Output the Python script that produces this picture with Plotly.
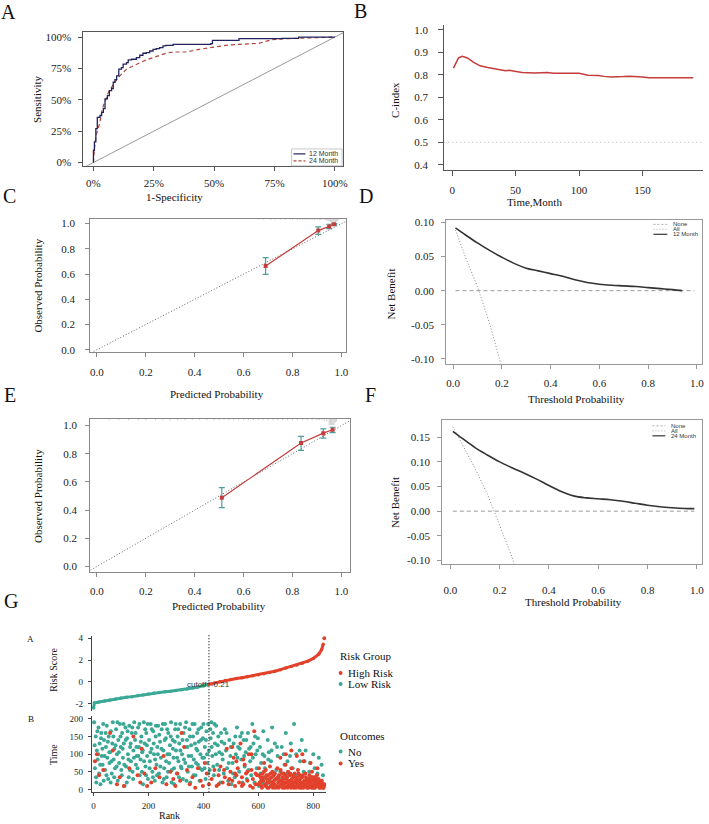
import plotly.graph_objects as go

W, H = 709, 824

# ---------------- DATA ----------------
# A: ROC curves (FPR, TPR)
roc_12m = [(0, 0), (0, 0.098), (0.004, 0.164), (0.01, 0.27), (0.016, 0.36), (0.027, 0.375), (0.034, 0.40),
           (0.041, 0.43), (0.048, 0.507), (0.058, 0.533), (0.066, 0.573), (0.075, 0.59), (0.082, 0.64),
           (0.089, 0.66), (0.096, 0.69), (0.105, 0.744), (0.116, 0.757), (0.123, 0.784), (0.137, 0.797),
           (0.144, 0.818), (0.158, 0.823), (0.178, 0.836), (0.192, 0.855), (0.205, 0.871), (0.219, 0.876),
           (0.233, 0.889), (0.247, 0.902), (0.26, 0.908), (0.274, 0.916), (0.288, 0.929), (0.30, 0.934),
           (0.33, 0.942), (0.486, 0.947), (0.493, 0.974), (0.603, 0.987), (0.78, 0.989), (0.85, 1.0), (1.0, 1.0)]
roc_24m = [(0, 0), (0.004, 0.11), (0.011, 0.216), (0.021, 0.27), (0.027, 0.32), (0.034, 0.40), (0.041, 0.454),
           (0.052, 0.507), (0.062, 0.56), (0.075, 0.60), (0.089, 0.64), (0.103, 0.678), (0.123, 0.718),
           (0.137, 0.744), (0.164, 0.77), (0.192, 0.797), (0.219, 0.818), (0.247, 0.836), (0.274, 0.855),
           (0.30, 0.871), (0.33, 0.881), (0.384, 0.881), (0.438, 0.902), (0.493, 0.916), (0.548, 0.934),
           (0.603, 0.942), (0.685, 0.95), (0.74, 0.98), (0.795, 0.987), (1.0, 1.0)]
roc_labels = ["0%", "25%", "50%", "75%", "100%"]

# B: time-dependent C-index
cidx_time = [1, 5, 8, 12, 17, 22, 28, 35, 42, 45, 50, 55, 65, 75, 80, 90, 100, 107, 115, 120, 125, 135, 140, 150, 155, 170, 190]
cidx_val = [0.83, 0.875, 0.882, 0.875, 0.855, 0.84, 0.832, 0.825, 0.818, 0.82, 0.815, 0.81, 0.808, 0.81, 0.807,
            0.807, 0.807, 0.798, 0.797, 0.793, 0.79, 0.792, 0.794, 0.79, 0.787, 0.787, 0.787]
cidx_ref = 0.5

# C: calibration 12 month
cal12_pred = [0.69, 0.905, 0.95, 0.97]
cal12_obs = [0.664, 0.945, 0.978, 0.995]
cal12_lo = [0.598, 0.915, 0.96, 0.99]
cal12_hi = [0.73, 0.974, 0.995, 1.0]
cal12_rug = [0.66, 0.68, 0.71, 0.73, 0.75, 0.77, 0.79, 0.80, 0.82, 0.83, 0.84, 0.85, 0.86, 0.87, 0.88, 0.89, 0.90,
             0.91, 0.915, 0.92, 0.93, 0.935, 0.94, 0.945, 0.95, 0.955, 0.96, 0.965, 0.97, 0.975, 0.98, 0.985, 0.99]
cal12_rug_h = [1, 1, 1, 1, 1, 1, 1, 1, 1, 1, 1, 1, 1, 1, 1, 1, 1, 1, 1, 1, 1, 1, 2, 2, 2, 3, 4, 4, 4, 4, 3, 2, 1]

# D: decision curve 12 month
dca12_t = [0.01, 0.05, 0.1, 0.15, 0.2, 0.25, 0.3, 0.35, 0.4, 0.45, 0.5, 0.55, 0.6, 0.65, 0.7, 0.75, 0.8, 0.85, 0.9, 0.94]
dca12_nb = [0.092, 0.082, 0.070, 0.059, 0.049, 0.040, 0.033, 0.029, 0.025, 0.021, 0.016, 0.012, 0.0095, 0.008,
            0.007, 0.006, 0.0045, 0.003, 0.0015, 0.0]
dca12_all_t = [0.01, 0.05, 0.1, 0.15, 0.2]
dca12_all_nb = [0.089, 0.050, 0.006, -0.048, -0.112]
none_t = [0.01, 0.99]
none_nb = [0, 0]

# E: calibration 24 month
cal24_pred = [0.511, 0.835, 0.926, 0.964]
cal24_obs = [0.488, 0.876, 0.946, 0.97]
cal24_lo = [0.418, 0.824, 0.911, 0.95]
cal24_hi = [0.559, 0.923, 0.977, 0.988]
cal24_rug = [0.05, 0.09, 0.13, 0.17, 0.2, 0.24, 0.27, 0.3, 0.33, 0.36, 0.39, 0.42, 0.45, 0.48, 0.5, 0.52, 0.54,
             0.56, 0.58, 0.6, 0.62, 0.64, 0.66, 0.68, 0.7, 0.72, 0.74, 0.76, 0.78, 0.8, 0.82, 0.84, 0.86, 0.88,
             0.9, 0.91, 0.92, 0.93, 0.94, 0.95, 0.955, 0.96, 0.965, 0.97, 0.975, 0.98]
cal24_rug_h = [1, 1, 1, 1, 1, 1, 1, 1, 1, 1, 1, 1, 1, 1, 1, 1, 1, 1, 1, 1, 1, 1, 1, 1, 1, 1, 1, 1, 1, 1, 1, 1,
               1, 1, 1, 1, 1, 2, 2, 5, 5, 5, 5, 5, 3, 2]

# F: decision curve 24 month
dca24_t = [0.01, 0.05, 0.1, 0.15, 0.2, 0.25, 0.3, 0.35, 0.4, 0.45, 0.5, 0.55, 0.6, 0.65, 0.7, 0.75, 0.8, 0.85, 0.9, 0.95, 0.99]
dca24_nb = [0.162, 0.147, 0.129, 0.114, 0.100, 0.088, 0.077, 0.065, 0.052, 0.040, 0.031, 0.027, 0.025, 0.023,
            0.020, 0.016, 0.012, 0.009, 0.007, 0.0055, 0.005]
dca24_all_t = [0.01, 0.05, 0.1, 0.15, 0.2, 0.25, 0.28]
dca24_all_nb = [0.171, 0.135, 0.087, 0.035, -0.028, -0.093, -0.14]

# G: risk score by rank
risk_rank = [0, 3, 20, 40, 60, 80, 100, 120, 140, 160, 180, 200, 220, 240, 260, 280, 300, 320, 340, 360, 380, 400,
             420, 440, 460, 480, 500, 520, 540, 560, 580, 600, 620, 640, 660, 680, 700, 720, 740, 760, 780, 800,
             820, 830, 836, 840]
risk_score = [-2.40, -1.95, -1.85, -1.75, -1.67, -1.58, -1.48, -1.42, -1.36, -1.28, -1.20, -1.12, -1.03, -0.97,
              -0.92, -0.86, -0.80, -0.73, -0.65, -0.57, -0.48, -0.38, -0.21, -0.10, 0.02, 0.12, 0.22, 0.30, 0.38,
              0.47, 0.56, 0.65, 0.75, 0.86, 0.98, 1.12, 1.28, 1.42, 1.56, 1.72, 1.90, 2.15, 2.55, 2.95, 3.45, 4.0]
cutoff_rank = 420
cutoff_value = -0.21

# G: survival time by rank, outcome No / Yes
time_no = [(2, 190), (5, 60), (8, 150), (10, 20), (12, 110), (15, 85), (18, 175), (20, 45), (22, 130), (25, 15), (28, 160),
           (30, 95), (33, 70), (35, 185), (38, 140), (42, 55), (45, 120), (48, 180), (50, 90), (53, 30), (55, 150),
           (58, 75), (60, 105), (63, 165), (66, 45), (68, 130), (70, 190), (73, 85), (76, 115), (78, 60), (82, 170),
           (85, 100), (88, 25), (90, 140), (93, 75), (96, 185), (99, 120), (101, 55), (104, 160), (107, 90), (110, 130),
           (113, 10), (116, 175), (118, 65), (122, 145), (125, 100), (128, 35), (130, 180), (133, 120), (136, 80),
           (139, 160), (142, 50), (145, 110), (148, 190), (151, 140), (154, 70), (157, 95), (162, 175), (165, 120),
           (168, 40), (171, 85), (174, 150), (177, 105), (180, 15), (183, 190), (186, 130), (189, 65), (192, 160),
           (195, 95), (198, 30), (202, 140), (205, 80), (208, 185), (211, 115), (214, 50), (217, 165), (220, 100),
           (223, 25), (226, 150), (229, 70), (232, 120), (235, 180), (238, 45), (242, 135), (245, 90), (248, 170),
           (251, 20), (254, 110), (257, 60), (260, 185), (263, 145), (266, 35), (269, 100), (272, 160), (275, 75),
           (278, 125), (282, 190), (285, 55), (288, 140), (291, 90), (294, 15), (297, 170), (300, 110), (303, 45),
           (306, 150), (309, 80), (312, 130), (315, 185), (318, 65), (322, 100), (325, 30), (328, 160), (331, 120),
           (334, 75), (337, 190), (340, 140), (343, 50), (346, 95), (349, 170), (352, 20), (355, 125), (358, 65),
           (362, 150), (365, 85), (368, 185), (371, 40), (374, 115), (377, 160), (380, 70), (383, 135), (386, 25),
           (389, 100), (392, 175), (395, 55), (398, 145), (402, 90), (405, 120), (408, 30), (411, 165), (414, 75),
           (417, 185), (420, 110), (423, 55), (426, 145), (429, 190), (432, 95), (435, 160), (438, 40), (442, 130),
           (446, 180), (450, 70), (454, 150), (458, 105), (462, 20), (466, 135), (470, 85), (474, 45), (478, 170),
           (482, 110), (486, 60), (490, 25), (494, 140), (498, 95), (502, 15), (506, 75), (510, 130), (514, 35),
           (518, 100), (522, 175), (526, 120), (530, 50), (534, 150), (538, 85), (542, 20), (546, 140), (550, 65),
           (554, 105), (558, 30), (562, 160), (566, 115), (570, 80), (574, 40), (578, 185), (582, 130), (586, 20),
           (590, 100), (594, 60), (598, 145), (602, 10), (606, 120), (610, 75), (614, 20), (618, 165), (622, 95),
           (626, 35), (630, 15), (634, 140), (638, 105), (642, 25), (646, 80), (650, 175), (655, 15), (660, 130),
           (665, 55), (670, 95), (675, 30), (685, 120), (690, 20), (695, 70), (700, 160), (705, 45), (710, 10),
           (715, 95), (725, 60), (730, 185), (738, 100), (745, 25), (752, 80), (758, 140), (765, 50), (772, 110),
           (780, 15), (788, 75), (795, 35), (805, 60), (812, 20), (820, 90), (828, 10), (835, 40),
           (4, 125), (9, 35), (14, 165), (17, 100), (24, 70), (27, 145), (32, 115), (37, 25), (40, 95), (44, 160),
           (47, 40), (52, 135), (57, 105), (62, 20), (65, 80), (72, 150), (75, 35), (80, 125), (84, 65), (87, 190),
           (92, 105), (98, 150), (103, 40), (106, 115), (109, 185), (112, 70), (117, 140), (121, 20), (124, 165),
           (127, 85), (132, 55), (135, 130), (141, 175), (144, 30), (147, 90), (153, 160), (156, 120), (160, 60),
           (163, 95), (167, 185), (172, 135), (176, 50), (179, 110), (184, 80), (188, 170), (191, 40), (194, 125),
           (197, 185), (204, 60), (207, 105), (212, 170), (216, 35), (219, 130), (224, 85), (227, 180), (231, 40),
           (234, 100), (239, 155), (243, 65), (247, 115), (252, 185), (256, 30), (259, 140), (264, 80), (268, 170),
           (271, 50), (276, 100), (281, 150), (284, 20), (289, 115), (293, 60), (296, 135), (299, 185), (304, 90),
           (308, 170), (311, 35), (316, 110), (320, 60), (324, 140), (329, 85), (333, 175), (338, 25), (342, 120),
           (347, 65), (351, 150), (356, 95), (360, 185), (364, 40), (369, 130), (373, 75), (378, 110), (382, 170),
           (387, 60), (391, 140), (396, 90), (400, 185), (404, 60), (409, 140), (413, 100), (418, 45), (425, 170),
           (430, 120), (436, 65), (440, 185), (445, 100), (452, 125), (457, 55), (464, 160), (468, 100), (476, 130),
           (484, 160), (492, 75), (500, 120), (508, 45), (516, 150), (524, 90), (532, 115), (540, 160), (548, 95),
           (556, 140), (564, 55), (572, 120), (580, 90), (588, 150), (596, 110), (608, 45), (616, 100), (624, 60),
           (636, 85), (648, 110), (658, 45), (668, 120), (680, 50), (692, 100), (706, 80), (718, 130), (735, 40),
           (750, 110), (768, 80), (785, 50), (800, 100), (815, 45), (830, 70)]
time_yes = [(5, 80), (12, 100), (20, 40), (35, 55), (60, 160), (70, 110), (85, 15), (95, 35), (110, 10), (130, 60),
            (145, 150), (160, 40), (170, 20), (175, 115), (185, 45), (195, 10), (210, 20), (225, 60), (240, 35),
            (255, 95), (265, 15), (280, 50), (290, 30), (298, 10), (305, 45), (315, 25), (320, 160), (330, 120),
            (340, 55), (350, 15), (360, 35), (370, 5), (380, 60), (390, 25), (398, 10), (405, 75), (412, 45),
            (420, 15), (430, 30), (440, 55), (448, 10), (455, 40), (462, 65), (470, 20), (478, 35), (485, 115),
            (492, 15), (498, 50), (505, 25), (510, 90), (515, 10), (520, 40), (525, 60), (530, 20), (535, 130),
            (540, 35), (545, 15), (550, 70), (555, 45), (560, 25), (565, 100), (570, 10), (575, 55), (580, 30),
            (585, 165), (590, 15), (595, 40), (602, 60), (605, 20), (608, 35), (612, 10), (615, 45), (618, 25),
            (621, 75), (624, 15), (627, 55), (630, 30), (633, 5), (636, 40), (639, 20), (642, 65), (645, 10),
            (648, 35), (651, 50), (654, 15), (657, 25), (660, 45), (663, 5), (666, 30), (669, 60), (672, 20),
            (675, 40), (678, 10), (681, 55), (684, 25), (687, 35), (690, 15), (693, 45), (696, 5), (699, 70),
            (702, 30), (705, 20), (708, 50), (711, 10), (714, 40), (717, 25), (720, 60), (723, 15), (726, 35),
            (729, 5), (732, 45), (735, 20), (738, 30), (741, 10), (744, 55), (747, 25), (750, 40), (753, 15),
            (756, 5), (759, 35), (762, 20), (765, 80), (768, 10), (771, 45), (774, 25), (777, 5), (780, 30),
            (783, 15), (786, 40), (789, 20), (792, 10), (795, 50), (798, 25), (801, 5), (804, 35), (807, 15),
            (810, 20), (813, 40), (816, 10), (819, 30), (822, 5), (825, 20), (828, 15), (831, 25), (834, 10),
            (837, 5), (840, 15), (740, 95), (760, 100), (790, 75), (815, 60), (700, 100), (680, 90), (720, 110),
            (601, 15), (604, 40), (610, 25), (613, 5), (617, 35), (620, 50), (626, 10), (629, 40), (632, 20),
            (638, 5), (641, 30), (644, 45), (650, 20), (653, 5), (656, 40), (659, 15), (662, 30), (668, 10),
            (671, 35), (674, 5), (677, 25), (683, 15), (686, 45), (689, 5), (692, 30), (695, 20), (698, 40),
            (701, 10), (704, 35), (707, 5), (710, 25), (713, 15), (716, 45), (719, 5), (722, 30), (725, 20),
            (728, 40), (731, 10), (734, 25), (737, 5), (740, 35), (743, 15), (746, 45), (749, 5), (752, 30),
            (755, 20), (758, 10), (761, 40), (764, 5), (767, 25), (770, 15), (773, 35), (776, 10), (779, 20),
            (782, 5), (785, 30), (788, 15), (791, 25), (794, 5), (797, 35), (800, 15), (803, 25), (806, 5),
            (809, 10), (812, 30), (815, 20), (818, 15), (821, 25), (824, 10), (827, 5), (830, 20), (833, 15),
            (836, 5), (839, 10), (455, 15), (475, 55), (495, 30), (515, 45), (540, 10), (560, 50), (580, 5),
            (590, 45), (520, 80), (545, 85), (575, 100), (505, 120)]

# ---------------- STYLE ----------------
SERIF = "Liberation Serif"
SANS = "Liberation Sans"
NAVY = "#23235B"
ROC24 = "#B5453C"
CRED = "#C43C3C"
TEAL = "#3AA895"
RED = "#E2412B"
ERR = "#4F9C9C"
DOT = "1px,2px"


def px(x):
    return x / W


def py(y):
    return 1 - y / H


fig = go.Figure()


def ax_names(n):
    return ("x" if n == 1 else f"x{n}"), ("y" if n == 1 else f"y{n}")


def setup_axes(n, box, xr, yr, xt, yt, xtt=None, ytt=None, linecolor="#666", mirror=True,
               xstand=3, ystand=4, fs=11, show_x=True, show_xline=True, ticklen=4):
    l, t, r, b = box
    xk = "xaxis" if n == 1 else f"xaxis{n}"
    yk = "yaxis" if n == 1 else f"yaxis{n}"
    xa, ya = ax_names(n)
    common = dict(showgrid=False, zeroline=False, linecolor=linecolor, linewidth=1, ticks="outside",
                  ticklen=ticklen, tickcolor=linecolor, tickwidth=1,
                  tickfont=dict(family=SERIF, size=fs, color="#222"), fixedrange=True)
    fig.layout[xk] = dict(common, domain=[px(l), px(r)], range=xr, anchor=ya, showline=show_xline,
                          mirror=mirror, tickvals=xt if show_x else [], ticktext=xtt,
                          showticklabels=show_x, ticklabelstandoff=xstand)
    fig.layout[yk] = dict(common, domain=[py(b), py(t)], range=yr, anchor=xa, showline=True,
                          mirror=mirror, tickvals=yt, ticktext=ytt, ticklabelstandoff=ystand)


def add_ann(text, x, y, size=11, family=SERIF, angle=0, xanchor="center", yanchor="middle", color="#111"):
    fig.add_annotation(text=text, x=px(x), y=py(y), xref="paper", yref="paper", showarrow=False,
                       textangle=angle, xanchor=xanchor, yanchor=yanchor,
                       font=dict(family=family, size=size, color=color))


def leg_line(x0, x1, y, color, dash, width=1):
    fig.add_shape(type="line", xref="paper", yref="paper", x0=px(x0), x1=px(x1), y0=py(y), y1=py(y),
                  line=dict(color=color, dash=dash, width=width))


# ---------------- Panel A ----------------
setup_axes(1, (83, 29, 345, 164), [-0.042, 1.034], [-0.026, 1.042], [0, 0.25, 0.5, 0.75, 1],
           [0, 0.25, 0.5, 0.75, 1], roc_labels, roc_labels, linecolor="#555", xstand=3, ystand=5)
fig.add_trace(go.Scatter(x=[-0.1, 1.1], y=[-0.1, 1.1], mode="lines", line=dict(color="#999", width=1),
                         xaxis="x", yaxis="y", showlegend=False))
fig.add_trace(go.Scatter(x=[p[0] for p in roc_24m], y=[p[1] for p in roc_24m], mode="lines",
                         line=dict(color=ROC24, width=1.2, dash="4px,3px"), xaxis="x", yaxis="y",
                         showlegend=False))
fig.add_trace(go.Scatter(x=[p[0] for p in roc_12m], y=[p[1] for p in roc_12m], mode="lines",
                         line=dict(color=NAVY, width=1.3, shape="hv"), xaxis="x", yaxis="y", showlegend=False))
fig.add_shape(type="rect", xref="paper", yref="paper", x0=px(293), x1=px(344), y0=py(164), y1=py(147),
              line=dict(color="#bbb", width=0.8), fillcolor="white")
leg_line(295, 307, 152, NAVY, "solid", 1.2)
leg_line(295, 307, 159, ROC24, "3px,2px", 1.2)
add_ann("12 Month", 342, 152, size=7, family=SANS, xanchor="right", color="#333")
add_ann("24 Month", 342, 159, size=7, family=SANS, xanchor="right", color="#333")
add_ann("Sensitivity", 37, 97, angle=-90)
add_ann("1-Specificity", 175, 195)

# ---------------- Panel B ----------------
setup_axes(2, (447, 22, 708, 168), [-6.25, 197.7], [0.378, 1.022], [0, 50, 100, 150],
           [0.4, 0.5, 0.6, 0.7, 0.8, 0.9, 1.0], None, ["0.4", "0.5", "0.6", "0.7", "0.8", "0.9", "1.0"],
           linecolor="#555", mirror=False, xstand=5, ystand=8, ticklen=5)
fig.add_shape(type="line", xref="x2 domain", yref="y2", x0=0, x1=1, y0=cidx_ref, y1=cidx_ref,
              line=dict(color="#bbb", width=1, dash="1px,3px"))
fig.add_trace(go.Scatter(x=cidx_time, y=cidx_val, mode="lines", line=dict(color=CRED, width=1.5),
                         xaxis="x2", yaxis="y2", showlegend=False))
add_ann("C-index", 398, 98, angle=-90)
add_ann("Time,Month", 538, 200)


# ---------------- Calibration panels ----------------
def calib(n, pred, obs, lo, hi, rug, rug_h, yr):
    xa, ya = ax_names(n)
    fig.add_trace(go.Scatter(x=[-0.1, 1.1], y=[-0.1, 1.1], mode="lines",
                             line=dict(color="#666", width=1, dash=DOT), xaxis=xa, yaxis=ya, showlegend=False))
    top = yr[1]
    unit = (yr[1] - yr[0]) / 140.0
    rx, ry = [], []
    for xv, hv in zip(rug, rug_h):
        rx += [xv, xv, None]
        ry += [top, top - hv * unit * 1.1, None]
    fig.add_trace(go.Scatter(x=rx, y=ry, mode="lines", line=dict(color="#aaa", width=0.6),
                             xaxis=xa, yaxis=ya, showlegend=False))
    fig.add_trace(go.Scatter(x=pred, y=obs, mode="lines", line=dict(color=CRED, width=1.2),
                             xaxis=xa, yaxis=ya, showlegend=False))
    fig.add_trace(go.Scatter(x=pred, y=obs, mode="markers",
                             marker=dict(color=CRED, size=4, symbol="square"),
                             error_y=dict(type="data", symmetric=False,
                                          array=[h - o for h, o in zip(hi, obs)],
                                          arrayminus=[o - l for o, l in zip(obs, lo)],
                                          color=ERR, thickness=1.2, width=3),
                             xaxis=xa, yaxis=ya, showlegend=False))


prob_ticks = [0, 0.2, 0.4, 0.6, 0.8, 1.0]
prob_lbl = ["0.0", "0.2", "0.4", "0.6", "0.8", "1.0"]
setup_axes(3, (90, 217.3, 348.3, 351.7), [-0.027, 1.02], [-0.019, 1.039], prob_ticks, prob_ticks,
           prob_lbl, prob_lbl, linecolor="#888", xstand=6, ystand=8)
calib(3, cal12_pred, cal12_obs, cal12_lo, cal12_hi, cal12_rug, cal12_rug_h, [-0.019, 1.039])
add_ann("Observed Probability", 37, 285, angle=-90)
add_ann("Predicted Probability", 218, 394)

setup_axes(5, (90, 419, 351.7, 573.3), [-0.027, 1.034], [-0.04, 1.047], prob_ticks, prob_ticks,
           prob_lbl, prob_lbl, linecolor="#888", xstand=5, ystand=6)
calib(5, cal24_pred, cal24_obs, cal24_lo, cal24_hi, cal24_rug, cal24_rug_h, [-0.04, 1.047])
add_ann("Observed Probability", 38, 497, angle=-90)
add_ann("Predicted Probability", 220, 607)


# ---------------- DCA panels ----------------
def dca(n, t, nb, at, anb, label, lx0, lx1, ltx, rows):
    xa, ya = ax_names(n)
    fig.add_trace(go.Scatter(x=none_t, y=none_nb, mode="lines", line=dict(color="#999", width=1, dash="4px,3px"),
                             xaxis=xa, yaxis=ya, showlegend=False))
    fig.add_trace(go.Scatter(x=at, y=anb, mode="lines", line=dict(color="#888", width=1, dash=DOT),
                             xaxis=xa, yaxis=ya, showlegend=False))
    fig.add_trace(go.Scatter(x=t, y=nb, mode="lines", line=dict(color="#333", width=1.6, shape="spline"),
                             xaxis=xa, yaxis=ya, showlegend=False))
    leg_line(lx0, lx1, rows[0], "#999", "2px,2px", 0.8)
    leg_line(lx0, lx1, rows[1], "#999", DOT, 0.8)
    leg_line(lx0, lx1, rows[2], "#333", "solid", 1.2)
    for txt, yy in zip(["None", "All", label], rows):
        add_ann(txt, ltx, yy, size=6, family=SANS, xanchor="left", color="#333")


nb_lbl_d = ["-0.10", "-0.05", "0.00", "0.05", "0.10"]
setup_axes(4, (449, 218.3, 706.7, 363.3), [-0.028, 1.02], [-0.107, 0.104], prob_ticks,
           [-0.1, -0.05, 0, 0.05, 0.1], prob_lbl, nb_lbl_d, linecolor="#999", xstand=5, ystand=5)
dca(4, dca12_t, dca12_nb, dca12_all_t, dca12_all_nb, "12 Month", 658, 672, 676, [223, 228, 233])
add_ann("Net Benefit", 393, 293, angle=-90)
add_ann("Threshold Probability", 580, 399)

nb_lbl_f = ["-0.10", "-0.05", "0.00", "0.05", "0.10", "0.15"]
setup_axes(6, (445, 420, 706.7, 565), [-0.033, 1.02], [-0.107, 0.185], prob_ticks,
           [-0.1, -0.05, 0, 0.05, 0.1, 0.15], prob_lbl, nb_lbl_f, linecolor="#999", xstand=12, ystand=5)
dca(6, dca24_t, dca24_nb, dca24_all_t, dca24_all_nb, "24 Month", 657, 670, 674, [426, 431, 436])
add_ann("Net Benefit", 398, 503, angle=-90)
add_ann("Threshold Probability", 577, 603)

# ---------------- Panel G ----------------
setup_axes(7, (91.7, 637.7, 328, 713.3), [-6, 847], [-2.69, 4.21], [0, 200, 400, 600, 800],
           [-2, 0, 2, 4], None, ["-2", "0", "2", "4"], linecolor="#444", mirror=False, xstand=3,
           ystand=3, fs=9, show_x=False, show_xline=False, ticklen=3)
setup_axes(8, (91.7, 718.3, 328, 795), [-6, 847], [-7.6, 207.6], [0, 200, 400, 600, 800],
           [0, 50, 100, 150, 200], None, ["0", "50", "100", "150", "200"], linecolor="#444", mirror=False,
           xstand=2, ystand=3, fs=9, ticklen=3)

lo_r = [r for r in risk_rank if r <= cutoff_rank]
lo_s = risk_score[:len(lo_r)]
hi_r = risk_rank[len(lo_r) - 1:]
hi_s = risk_score[len(lo_r) - 1:]
fig.add_trace(go.Scatter(x=lo_r, y=lo_s, mode="lines+markers", line=dict(color=TEAL, width=3),
                         marker=dict(color=TEAL, size=3.5), xaxis="x7", yaxis="y7", showlegend=False))
fig.add_trace(go.Scatter(x=hi_r[:-1], y=hi_s[:-1], mode="lines+markers", line=dict(color=RED, width=3),
                         marker=dict(color=RED, size=3.5), xaxis="x7", yaxis="y7", showlegend=False))
fig.add_trace(go.Scatter(x=hi_r[-1:], y=hi_s[-1:], mode="markers", marker=dict(color=RED, size=4),
                         xaxis="x7", yaxis="y7", showlegend=False))
fig.add_annotation(text=f"cutoff: {cutoff_value}", x=cutoff_rank, y=cutoff_value, xref="x7", yref="y7",
                   showarrow=False, font=dict(family=SANS, size=8, color="#333"))

fig.add_trace(go.Scatter(x=[p[0] for p in time_no], y=[p[1] for p in time_no], mode="markers",
                         marker=dict(color=TEAL, size=4), xaxis="x8", yaxis="y8", showlegend=False))
fig.add_trace(go.Scatter(x=[p[0] for p in time_yes], y=[p[1] for p in time_yes], mode="markers",
                         marker=dict(color=RED, size=4), xaxis="x8", yaxis="y8", showlegend=False))
fig.add_shape(type="line", xref="x8", yref="paper", x0=cutoff_rank, x1=cutoff_rank, y0=py(795), y1=py(636),
              line=dict(color="#222", width=1.3, dash=DOT))

add_ann("Risk Score", 53, 672, size=10, angle=-90)
add_ann("Time", 53, 757, size=10, angle=-90)
add_ann("Rank", 170, 818, size=10)
add_ann("A", 30, 641, size=9)
add_ann("B", 30, 721, size=9)

# G legends
add_ann("Risk Group", 340, 658, size=11, xanchor="left")
add_ann("Outcomes", 340, 738, size=11, xanchor="left")
for txt, yy, col in [("High Risk", 675, RED), ("Low Risk", 686, TEAL), ("No", 754, TEAL), ("Yes", 766, RED)]:
    fig.add_shape(type="circle", xref="paper", yref="paper", x0=px(340.5), x1=px(344.5), y0=py(yy + 2),
                  y1=py(yy - 2), fillcolor=col, line=dict(width=0))
    add_ann(txt, 348, yy, size=11, xanchor="left")

# Panel letters
for L, x, y in [("A", 8, 9), ("B", 363, 8), ("C", 9, 194), ("D", 368, 194), ("E", 9, 395), ("F", 373, 395),
                ("G", 10, 602)]:
    add_ann(L, x, y, size=20)

fig.update_layout(width=W, height=H, margin=dict(l=0, r=0, t=0, b=0), paper_bgcolor="white",
                  plot_bgcolor="white", showlegend=False)
fig.write_html("out.html")
